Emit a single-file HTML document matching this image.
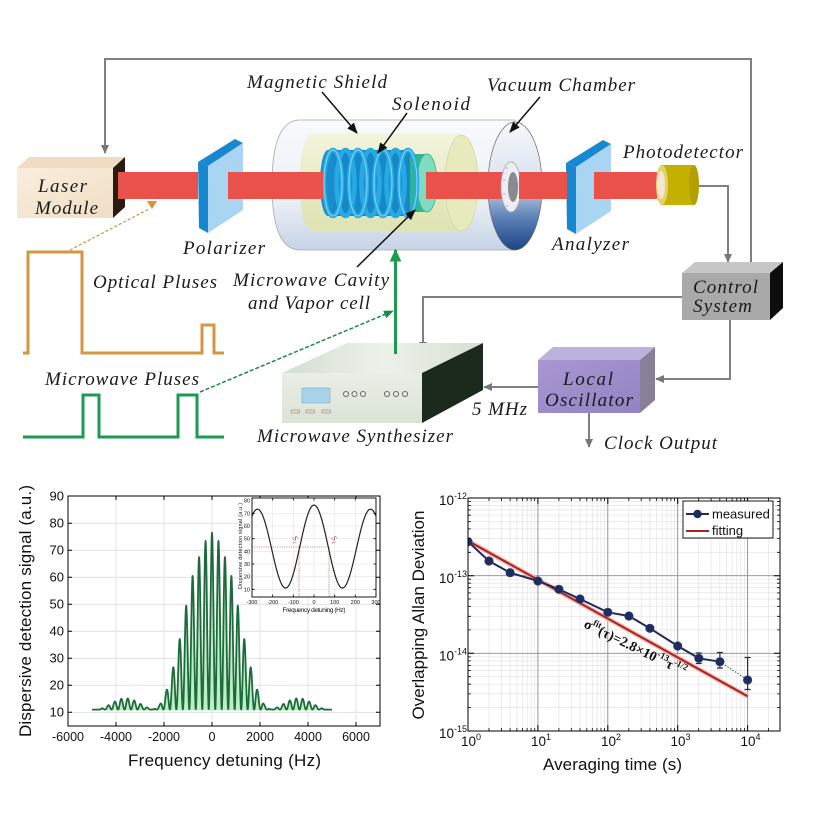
<!DOCTYPE html>
<html><head><meta charset="utf-8">
<style>
html,body{margin:0;padding:0;background:#fff;}
svg{display:block;}
.t{font-family:"Liberation Serif",serif;font-style:italic;font-size:19px;fill:#1a1a1a;}
.s{font-family:"Liberation Sans",sans-serif;fill:#111;}
</style></head><body>
<svg width="813" height="813" viewBox="0 0 813 813" xmlns="http://www.w3.org/2000/svg">
<defs>
<marker id="ga" viewBox="0 0 10 10" refX="9" refY="5" markerWidth="9" markerHeight="9" markerUnits="userSpaceOnUse" orient="auto"><path d="M0,0.5 L10,5 L0,9.5 Z" fill="#777"/></marker>
<marker id="ba" viewBox="0 0 10 10" refX="9" refY="5" markerWidth="11" markerHeight="11" markerUnits="userSpaceOnUse" orient="auto"><path d="M0,1 L10,5 L0,9 Z" fill="#111"/></marker>
<marker id="gn" viewBox="0 0 10 10" refX="9" refY="5" markerWidth="13" markerHeight="13" markerUnits="userSpaceOnUse" orient="auto"><path d="M0,0.5 L10,5 L0,9.5 Z" fill="#1e9a4e"/></marker>
<marker id="gd" viewBox="0 0 10 10" refX="9" refY="5" markerWidth="10" markerHeight="10" markerUnits="userSpaceOnUse" orient="auto"><path d="M0,1 L10,5 L0,9 Z" fill="#1a8a48"/></marker>
<linearGradient id="og" x1="0" y1="0" x2="0" y2="1"><stop offset="0" stop-color="#f8fafc"/><stop offset="0.6" stop-color="#edf1f6"/><stop offset="1" stop-color="#c6d4e6"/></linearGradient>
<linearGradient id="dg" x1="0" y1="0" x2="0" y2="1"><stop offset="0" stop-color="#f6f8fb"/><stop offset="0.45" stop-color="#dbe4f0"/><stop offset="0.75" stop-color="#5b80b6"/><stop offset="1" stop-color="#1d4585"/></linearGradient>
<linearGradient id="sg" x1="0" y1="0" x2="0" y2="1"><stop offset="0" stop-color="#f3f4de"/><stop offset="0.5" stop-color="#e8ecc4"/><stop offset="1" stop-color="#dde3b2"/></linearGradient>
<linearGradient id="lg" x1="0" y1="0" x2="1" y2="1"><stop offset="0" stop-color="#f9eedd"/><stop offset="1" stop-color="#f0dec4"/></linearGradient>
<linearGradient id="log" x1="0" y1="0" x2="1" y2="1"><stop offset="0" stop-color="#a897d2"/><stop offset="1" stop-color="#9383c2"/></linearGradient>
<linearGradient id="stg" x1="0" y1="0" x2="1" y2="0"><stop offset="0" stop-color="#d3ddd0"/><stop offset="0.5" stop-color="#edf1ea"/><stop offset="1" stop-color="#d6dfd2"/></linearGradient>
<linearGradient id="sfg" x1="0" y1="0" x2="0" y2="1"><stop offset="0" stop-color="#e9eee6"/><stop offset="1" stop-color="#dbe3d6"/></linearGradient>
<clipPath id="rc"><rect x="468" y="498" width="312" height="233"/></clipPath>
</defs>

<rect width="813" height="813" fill="#fff"/>

<!-- ======== TOP DIAGRAM ======== -->
<!-- feedback lines -->
<g fill="none" stroke="#808080" stroke-width="2">
<path d="M751,262 V59 H105 V153" marker-end="url(#ga)"/>
<path d="M698,186 H728 V262" marker-end="url(#ga)"/>
<path d="M682,297 H423 V350" marker-end="url(#ga)"/>
<path d="M730,320 V379 H656" marker-end="url(#ga)"/>
<path d="M538,387 H484" marker-end="url(#ga)"/>
<path d="M589,413 V447" marker-end="url(#ga)"/>
</g>

<!-- Laser module -->
<polygon points="17,168 113,168 125,157 29,157" fill="#efdcc2"/>
<rect x="17" y="168" width="96" height="50" fill="url(#lg)"/>
<polygon points="113,168 125,157 125,207 113,218" fill="#2a1a10"/>
<text class="t" x="38" y="192" textLength="49" lengthAdjust="spacing">Laser</text>
<text class="t" x="35" y="214" textLength="63" lengthAdjust="spacing">Module</text>

<!-- Polarizer -->
<polygon points="198,162 235,139 243,143 208,166" fill="#1787d0"/>
<polygon points="198,162 208,166 208,233 199,228" fill="#1787d0"/>
<polygon points="208,166 243,143 243,210 208,233" fill="#a9d5f2"/>
<!-- Analyzer -->
<g transform="translate(368,1)">
<polygon points="198,162 235,139 243,143 208,166" fill="#1787d0"/>
<polygon points="198,162 208,166 208,233 199,228" fill="#1787d0"/>
<polygon points="208,166 243,143 243,210 208,233" fill="#a9d5f2"/>
</g>

<!-- Vacuum chamber outer body -->
<path d="M300,120 H515 V250 H300 Q272,250 272,185 Q272,120 300,120 Z" fill="url(#og)" stroke="#a8a8a8" stroke-width="0.8"/>
<ellipse cx="515" cy="186" rx="27" ry="64" fill="url(#dg)" stroke="#666" stroke-width="0.7"/>
<!-- magnetic shield -->
<path d="M314,133 H461 V231 H314 Q300,231 300,182 Q300,133 314,133 Z" fill="url(#sg)"/>
<ellipse cx="461.5" cy="183" rx="16.5" ry="48" fill="#e6eabc" stroke="#d4daa4" stroke-width="0.8"/>
<!-- cavity -->
<rect x="400" y="154" width="27" height="58" fill="#2fb592"/>
<ellipse cx="427" cy="183" rx="10" ry="29" fill="#7fdcc0" stroke="#44bb96" stroke-width="1"/>
<!-- solenoid -->
<rect x="328" y="150" width="82" height="66" fill="#1688c8"/>
<ellipse cx="328" cy="183" rx="8" ry="33" fill="#1a8ccc"/>
<g fill="none" stroke="#27a9e6" stroke-width="4.5">
<ellipse cx="333" cy="183" rx="9" ry="33"/>
<ellipse cx="345.5" cy="183" rx="9" ry="33"/>
<ellipse cx="358" cy="183" rx="9" ry="33"/>
<ellipse cx="370.5" cy="183" rx="9" ry="33"/>
<ellipse cx="383" cy="183" rx="9" ry="33"/>
<ellipse cx="395.5" cy="183" rx="9" ry="33"/>
<ellipse cx="408" cy="183" rx="9" ry="33"/>
</g>
<g fill="none" stroke="#8fd8f6" stroke-width="1">
<ellipse cx="333" cy="183" rx="9" ry="33"/>
<ellipse cx="358" cy="183" rx="9" ry="33"/>
<ellipse cx="383" cy="183" rx="9" ry="33"/>
<ellipse cx="408" cy="183" rx="9" ry="33"/>
</g>

<!-- beam -->
<g fill="#e8524b">
<rect x="118" y="172" width="80" height="27"/>
<rect x="228" y="172" width="95" height="27"/>
<rect x="426" y="172" width="80" height="27"/>
</g>
<!-- flange -->
<ellipse cx="511" cy="187" rx="10" ry="25" fill="#eceef3" stroke="#aaa" stroke-width="0.8"/>
<ellipse cx="513" cy="187" rx="5" ry="15" fill="#8a8a8e"/>
<g fill="#c0c4cc"><circle cx="507" cy="168" r="1"/><circle cx="504" cy="180" r="1"/><circle cx="504" cy="194" r="1"/><circle cx="507" cy="206" r="1"/></g>
<g fill="#e8524b">
<rect x="519" y="172" width="48" height="27"/>
<rect x="594" y="172" width="63" height="27"/>
</g>

<!-- photodetector -->
<rect x="661" y="165" width="33" height="40" fill="#c4b000"/>
<ellipse cx="694" cy="185" rx="5" ry="20" fill="#b3a000"/>
<ellipse cx="662" cy="185" rx="6" ry="20" fill="#e2d26a"/>
<ellipse cx="661" cy="185" rx="4" ry="14" fill="#f3e6d2"/>

<!-- Control system -->
<polygon points="682,273 770,273 783,262 695,262" fill="#c6c6c6"/>
<rect x="682" y="273" width="88" height="47" fill="#a9a9a9"/>
<polygon points="770,273 783,262 783,308 770,320" fill="#0d0d0d"/>
<text class="t" x="693" y="293" textLength="65" lengthAdjust="spacing">Control</text>
<text class="t" x="693" y="312" textLength="59" lengthAdjust="spacing">System</text>

<!-- Local oscillator -->
<polygon points="538,360 640,360 655,347 553,347" fill="#bdb1de"/>
<rect x="538" y="360" width="102" height="53" fill="url(#log)"/>
<polygon points="640,360 655,347 655,400 640,413" fill="#878098"/>
<text class="t" x="563" y="385" textLength="50" lengthAdjust="spacing">Local</text>
<text class="t" x="545" y="406" textLength="88" lengthAdjust="spacing">Oscillator</text>

<!-- Microwave synthesizer -->
<polygon points="282,373 422,373 483,343 347,343" fill="url(#stg)"/>
<rect x="282" y="373" width="140" height="50" fill="url(#sfg)"/>
<polygon points="422,373 483,343 483,390 422,423" fill="#1c2a1e"/>
<rect x="302" y="388" width="28" height="15" fill="#a8d4ea" stroke="#7aaccc" stroke-width="0.6"/>
<g fill="#e4e4e4" stroke="#555" stroke-width="0.8">
<circle cx="346" cy="394" r="2.6"/><circle cx="354.5" cy="394" r="2.6"/><circle cx="363" cy="394" r="2.6"/>
<circle cx="387" cy="394" r="2.6"/><circle cx="396" cy="394" r="2.6"/><circle cx="405" cy="394" r="2.6"/>
</g>
<g fill="#ead9c0" stroke="#8a8a8a" stroke-width="0.6">
<rect x="291" y="410" width="8.5" height="3"/><rect x="306" y="410" width="8.5" height="3"/><rect x="322" y="410" width="8.5" height="3"/>
</g>
<text class="t" x="257" y="442" textLength="196" lengthAdjust="spacing">Microwave Synthesizer</text>

<!-- green arrow up -->
<line x1="395.5" y1="354" x2="395.5" y2="250" stroke="#1e9a4e" stroke-width="3" marker-end="url(#gn)"/>

<!-- pointer arrows -->
<g stroke="#111" stroke-width="1.5" fill="none">
<line x1="322" y1="92" x2="357" y2="133" marker-end="url(#ba)"/>
<line x1="407" y1="113" x2="378" y2="153" marker-end="url(#ba)"/>
<line x1="540" y1="97" x2="510" y2="132" marker-end="url(#ba)"/>
<line x1="357" y1="267" x2="415" y2="210" marker-end="url(#ba)"/>
</g>

<!-- pulses -->
<path d="M23,353 H28 V252 H82 V353 H202 V325 H214 V353 H224" fill="none" stroke="#d6953f" stroke-width="3"/>
<path d="M23,437 H83 V395 H99 V437 H178 V395 H197 V437 H224" fill="none" stroke="#1b9a50" stroke-width="3"/>
<line x1="70" y1="250" x2="149" y2="209" stroke="#c8904a" stroke-width="1.2" stroke-dasharray="3 2"/>
<polygon points="147,201 157,201 152,209" fill="#e0902a"/>
<line x1="200" y1="392" x2="393" y2="311" stroke="#1a8a48" stroke-width="1.5" stroke-dasharray="4 2" marker-end="url(#gd)"/>

<!-- labels -->
<text class="t" x="247" y="88" textLength="140" lengthAdjust="spacing">Magnetic Shield</text>
<text class="t" x="392" y="110" textLength="78" lengthAdjust="spacing">Solenoid</text>
<text class="t" x="487" y="91" textLength="148" lengthAdjust="spacing">Vacuum Chamber</text>
<text class="t" x="623" y="158" textLength="120" lengthAdjust="spacing">Photodetector</text>
<text class="t" x="183" y="254" textLength="82" lengthAdjust="spacing">Polarizer</text>
<text class="t" x="552" y="250" textLength="77" lengthAdjust="spacing">Analyzer</text>
<text class="t" x="93" y="288" textLength="124" lengthAdjust="spacing">Optical Pluses</text>
<text class="t" x="233" y="286" textLength="156" lengthAdjust="spacing">Microwave Cavity</text>
<text class="t" x="248" y="309" textLength="122" lengthAdjust="spacing">and Vapor cell</text>
<text class="t" x="45" y="385" textLength="154" lengthAdjust="spacing">Microwave Pluses</text>
<text class="t" x="472" y="415" textLength="55" lengthAdjust="spacing">5 MHz</text>
<text class="t" x="604" y="449" textLength="113" lengthAdjust="spacing">Clock Output</text>

<!-- ======== LEFT CHART ======== -->
<g stroke="#dedede" stroke-width="0.8">
<path d="M116,496V726M164,496V726M212,496V726M260,496V726M308,496V726M356,496V726"/>
<path d="M68,523.3H380M68,550.3H380M68,577.3H380M68,604.3H380M68,631.3H380M68,658.3H380M68,685.3H380M68,712.3H380"/>
</g>
<path id="frf" d="" fill="#bdeec4" stroke="none"/>
<path id="fr" d="" fill="none" stroke="#1d6b3c" stroke-width="1.8" stroke-linejoin="round"/>
<rect x="68" y="496" width="312" height="230" fill="none" stroke="#000" stroke-width="1"/>
<g stroke="#000" stroke-width="1">
<path d="M116,726v-4M164,726v-4M212,726v-4M260,726v-4M308,726v-4M356,726v-4"/>
<path d="M116,496v4M164,496v4M212,496v4M260,496v4M308,496v4M356,496v4"/>
<path d="M68,523.3h4M68,550.3h4M68,577.3h4M68,604.3h4M68,631.3h4M68,658.3h4M68,685.3h4M68,712.3h4"/>
<path d="M380,523.3h-4M380,550.3h-4M380,577.3h-4M380,604.3h-4M380,631.3h-4M380,658.3h-4M380,685.3h-4M380,712.3h-4"/>
</g>
<g class="s" font-size="13" text-anchor="end">
<text x="64" y="500.5">90</text><text x="64" y="527.5">80</text><text x="64" y="554.5">70</text>
<text x="64" y="581.5">60</text><text x="64" y="608.5">50</text><text x="64" y="635.5">40</text>
<text x="64" y="662.5">30</text><text x="64" y="689.5">20</text><text x="64" y="716.5">10</text>
</g>
<g class="s" font-size="12.5" text-anchor="middle">
<text x="68" y="741">-6000</text><text x="116" y="741">-4000</text><text x="164" y="741">-2000</text>
<text x="212" y="741">0</text><text x="260" y="741">2000</text><text x="308" y="741">4000</text><text x="356" y="741">6000</text>
</g>
<text class="s" font-size="17" text-anchor="middle" x="224.5" y="766" textLength="193" lengthAdjust="spacing">Frequency detuning (Hz)</text>
<text class="s" font-size="17" text-anchor="middle" transform="translate(31,611) rotate(-90)" x="0" y="0" textLength="252" lengthAdjust="spacing">Dispersive detection signal (a.u.)</text>

<!-- inset -->
<rect x="252" y="498" width="124" height="99" fill="#fff" stroke="none"/>
<g stroke="#e4e4e4" stroke-width="0.6">
<path d="M272.7,498V597M293.3,498V597M314,498V597M334.7,498V597M355.3,498V597"/>
<path d="M252,513.3H376M252,526H376M252,538.7H376M252,551.3H376M252,564H376M252,576.6H376M252,589.3H376"/>
</g>
<g stroke="#c0504a" stroke-width="0.8" stroke-dasharray="1 1.3" fill="none">
<path d="M252,547H329M299,547V597M329,547V597"/>
</g>
<path id="ins" d="" fill="none" stroke="#222" stroke-width="1.2"/>
<rect x="252" y="498" width="124" height="99" fill="none" stroke="#000" stroke-width="0.9"/>
<g stroke="#000" stroke-width="0.8">
<path d="M272.7,597v-2.5M293.3,597v-2.5M314,597v-2.5M334.7,597v-2.5M355.3,597v-2.5"/>
<path d="M272.7,498v2.5M293.3,498v2.5M314,498v2.5M334.7,498v2.5M355.3,498v2.5"/>
<path d="M376,513.3h-2.5M376,538.7h-2.5M376,564h-2.5M376,589.3h-2.5M252,513.3h2.5M252,538.7h2.5M252,564h2.5M252,589.3h2.5"/>
</g>
<g class="s" font-size="5.5" text-anchor="end">
<text x="250" y="502.5">80</text><text x="250" y="515.3">70</text><text x="250" y="528">60</text>
<text x="250" y="540.7">50</text><text x="250" y="553.3">40</text><text x="250" y="566">30</text>
<text x="250" y="578.6">20</text><text x="250" y="591.3">10</text>
</g>
<g class="s" font-size="5.5" text-anchor="middle">
<text x="252" y="604">-300</text><text x="272.7" y="604">-200</text><text x="293.3" y="604">-100</text>
<text x="314" y="604">0</text><text x="334.7" y="604">100</text><text x="355.3" y="604">200</text><text x="376" y="604">300</text>
</g>
<text class="s" font-size="6.5" text-anchor="middle" x="314" y="612" textLength="63" lengthAdjust="spacing">Frequency detuning (Hz)</text>
<text class="s" font-size="5.3" text-anchor="middle" transform="translate(242,546) rotate(-90)" x="0" y="0" textLength="86" lengthAdjust="spacing">Dispersive detection signal (a.u.)</text>
<text font-family="Liberation Serif,serif" font-style="italic" font-size="8" fill="#b04030" transform="translate(292,538) rotate(55)">S<tspan font-size="5" dy="2">1</tspan></text>
<text font-family="Liberation Serif,serif" font-style="italic" font-size="8" fill="#b04030" transform="translate(331,538) rotate(55)">S<tspan font-size="5" dy="2">2</tspan></text>

<!-- ======== RIGHT CHART ======== -->
<path id="rmg" d="" stroke="#e3e3e3" stroke-width="0.7" fill="none"/>
<g stroke="#8c8c8c" stroke-width="0.9">
<path d="M537.9,498V731M607.8,498V731M677.7,498V731M747.6,498V731M468,575.7H780M468,653.3H780"/>
</g>
<g clip-path="url(#rc)">
<line x1="468" y1="540.9" x2="747.6" y2="696.3" stroke="#f3b3aa" stroke-width="4.5"/>
<line x1="468" y1="540.9" x2="747.6" y2="696.3" stroke="#a82424" stroke-width="2"/>
<polyline points="468,541.7 489,561 510.1,572.7 537.9,581 558.9,589.3 580,599 607.8,612.3 628.9,616 649.9,628.3 677.7,646 698.8,658.3 719.9,661.7" fill="none" stroke="#1f2a5c" stroke-width="2"/>
<line x1="719.9" y1="661.7" x2="747.6" y2="680" stroke="#1f2a5c" stroke-width="0.8" stroke-dasharray="1.5 1.5"/>
<g stroke="#1f2a5c" stroke-width="1.2">
<path d="M698.8,653V663.5M695.8,653h6M695.8,663.5h6"/>
<path d="M719.9,652.5V668M716.9,652.5h6M716.9,668h6"/>
<path d="M747.6,657.5V689.5M744.6,657.5h6M744.6,689.5h6"/>
</g>
<g fill="#1f2d5e" stroke="#3a4878" stroke-width="0.6">
<circle cx="468" cy="541.7" r="4.3"/><circle cx="489" cy="561" r="4.3"/><circle cx="510.1" cy="572.7" r="4.3"/>
<circle cx="537.9" cy="581" r="4.3"/><circle cx="558.9" cy="589.3" r="4.3"/><circle cx="580" cy="599" r="4.3"/>
<circle cx="607.8" cy="612.3" r="4.3"/><circle cx="628.9" cy="616" r="4.3"/><circle cx="649.9" cy="628.3" r="4.3"/>
<circle cx="677.7" cy="646" r="4.3"/><circle cx="698.8" cy="658.3" r="4.3"/><circle cx="719.9" cy="661.7" r="4.3"/>
<circle cx="747.6" cy="680" r="4.3"/>
</g>
</g>
<rect x="468" y="498" width="312" height="233" fill="none" stroke="#000" stroke-width="1"/>
<g stroke="#000" stroke-width="1">
<path d="M537.9,731v-6M607.8,731v-6M677.7,731v-6M747.6,731v-6M537.9,498v6M607.8,498v6M677.7,498v6M747.6,498v6"/>
<path d="M468,575.7h6M468,653.3h6M780,575.7h-6M780,653.3h-6"/>
</g>
<path id="rmt" d="" stroke="#000" stroke-width="0.8" fill="none"/>

<!-- fit text -->
<text font-family="Liberation Serif,serif" font-weight="bold" font-size="14" fill="#111" transform="translate(583,627) rotate(26)" x="0" y="0" textLength="112" lengthAdjust="spacing">σ<tspan font-size="9" dy="-6">fit</tspan><tspan dy="6">(τ)=2.8×10</tspan><tspan font-size="9" dy="-6">-13</tspan><tspan dy="6">τ</tspan><tspan font-size="9" dy="-6">-1/2</tspan></text>

<!-- legend -->
<rect x="683" y="501" width="90" height="37" fill="#fff" stroke="#000" stroke-width="0.9"/>
<line x1="686" y1="514" x2="709" y2="514" stroke="#1f2a5c" stroke-width="2"/>
<circle cx="697.5" cy="514" r="4.2" fill="#1f2d5e"/>
<line x1="686" y1="531" x2="709" y2="531" stroke="#a82424" stroke-width="2"/>
<text class="s" font-size="13" x="712" y="518.5">measured</text>
<text class="s" font-size="13" x="712" y="535">fitting</text>

<!-- tick labels -->
<g class="s" font-size="13.5" text-anchor="end">
<text x="467" y="505">10<tspan font-size="9" dy="-6">-12</tspan></text>
<text x="467" y="583">10<tspan font-size="9" dy="-6">-13</tspan></text>
<text x="467" y="660.5">10<tspan font-size="9" dy="-6">-14</tspan></text>
<text x="467" y="738">10<tspan font-size="9" dy="-6">-15</tspan></text>
</g>
<g class="s" font-size="13.5">
<text x="461" y="746">10<tspan font-size="9" dy="-6">0</tspan></text>
<text x="531" y="746">10<tspan font-size="9" dy="-6">1</tspan></text>
<text x="601" y="746">10<tspan font-size="9" dy="-6">2</tspan></text>
<text x="670.5" y="746">10<tspan font-size="9" dy="-6">3</tspan></text>
<text x="740.5" y="746">10<tspan font-size="9" dy="-6">4</tspan></text>
</g>
<text class="s" font-size="17" text-anchor="middle" x="612.5" y="770" textLength="139" lengthAdjust="spacing">Averaging time (s)</text>
<text class="s" font-size="17" text-anchor="middle" transform="translate(424,615) rotate(-90)" x="0" y="0" textLength="209" lengthAdjust="spacing">Overlapping Allan Deviation</text>
</svg>

<script>
(function(){
function P(id,d){var e=document.getElementById(id);if(e)e.setAttribute('d',d);}
var T=[65.5,62.5,56.5,49.5,38.5,26,15.5,7.2,2,0,0];
function env(f){var a=Math.abs(f),n=a/270,i=Math.floor(n),e=0;
 if(i<9){e=T[i]+(T[i+1]-T[i])*(n-i);}
 if(a>2350&&a<4850){var s=Math.sin(Math.PI*(a-2350)/2500);e+=4.2*s*s;}
 return e;}
var pts=[];
for(var f=-5000;f<=5000;f+=10){var c=Math.cos(Math.PI*f/270);var v=11+env(f)*c*c;
 pts.push((212+f*0.024).toFixed(2)+','+(712.3-(v-10)*2.7).toFixed(2));}
P('fr','M'+pts.join('L'));
P('frf','M92,710.5L'+pts.join('L')+'L332,710.5Z');
var ip=[];
for(var g=-300;g<=300;g+=2){var c2=Math.cos(Math.PI*g/275);var A=65.5-3*(g/265)*(g/265);var v2=11+A*c2*c2;
 ip.push((252+(g+300)*124/600).toFixed(2)+','+(589.3-(v2-10)*1.266).toFixed(2));}
P('ins','M'+ip.join('L'));
var lg=[.30103,.47712,.60206,.69897,.77815,.845098,.90309,.954243];
var gd='',tk='';
for(var k=0;k<5;k++)for(var j=0;j<8;j++){var x=468+69.9*(k+lg[j]);if(x>=779)continue;var xs=x.toFixed(1);
 gd+='M'+xs+',498V731';tk+='M'+xs+',731v-3M'+xs+',498v3';}
for(var k2=0;k2<3;k2++)for(var j2=0;j2<8;j2++){var y=731-77.67*(k2+lg[j2]);var ys=y.toFixed(1);
 gd+='M468,'+ys+'H780';tk+='M468,'+ys+'h3M780,'+ys+'h-3';}
P('rmg',gd);P('rmt',tk);
})();
</script>
</body></html>
